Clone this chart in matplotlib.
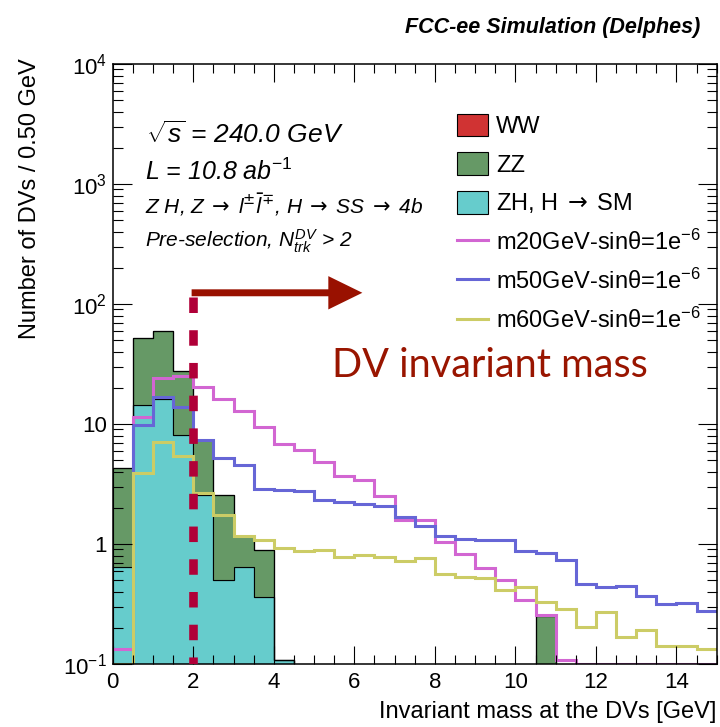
import numpy as np
import matplotlib
matplotlib.use("Agg")
import matplotlib.pyplot as plt
from matplotlib.patches import Patch
from matplotlib.lines import Line2D
from matplotlib.ticker import MultipleLocator, LogLocator, NullFormatter

#%% data: DV invariant mass, 0.5 GeV bins from 0 to 15 GeV
edges = np.arange(0, 15.01, 0.5)

ww = np.zeros(30)
zz = np.array([3.62, 37.6, 42.8, 19.8, 4.85, 2.08, 0.52, 0.52, 0, 0,
               0, 0, 0, 0, 0, 0, 0, 0, 0, 0,
               0, 0.249, 0, 0, 0, 0, 0, 0, 0, 0])
zh = np.array([0.64, 14.4, 16.2, 8.1, 2.55, 0.50, 0.64, 0.364, 0.108, 0,
               0, 0, 0, 0, 0, 0, 0, 0, 0, 0,
               0, 0, 0, 0, 0, 0, 0, 0, 0, 0])

m20 = np.array([0.133, 11.4, 24.1, 25.2, 20.5, 16.3, 12.8, 9.4, 6.77, 6.06,
                4.78, 3.69, 3.40, 2.53, 1.60, 1.57, 1.04, 0.82, 0.63, 0.50,
                0.34, 0.255, 0.109, 0, 0, 0, 0, 0, 0, 0])
m50 = np.array([0, 9.8, 16.9, 13.8, 7.35, 5.16, 4.54, 2.90, 2.80, 2.77,
                2.34, 2.24, 2.14, 2.06, 1.68, 1.41, 1.16, 1.10, 1.09, 1.09,
                0.88, 0.84, 0.73, 0.46, 0.435, 0.447, 0.37, 0.316, 0.32, 0.278])
m60 = np.array([0, 3.89, 7.03, 5.43, 2.68, 1.73, 1.16, 1.07, 0.93, 0.88,
                0.89, 0.78, 0.81, 0.78, 0.72, 0.77, 0.56, 0.53, 0.52, 0.41,
                0.44, 0.33, 0.287, 0.204, 0.272, 0.169, 0.191, 0.141, 0.141, 0.133])

bkg_labels = ["WW", "ZZ", r"ZH, H$\:\rightarrow\:$SM"]
sig_labels = [r"m20GeV-sinθ=1e$^{-6}$", r"m50GeV-sinθ=1e$^{-6}$", r"m60GeV-sinθ=1e$^{-6}$"]
xticks = np.arange(0, 15, 2)
yticks = [0.1, 1, 10, 100, 1000, 10000]
ytick_labels = [r"$10^{-1}$", "1", "10", r"$10^{2}$", r"$10^{3}$", r"$10^{4}$"]
cut = 2.0

#%% style
plt.rcParams['font.family'] = ['Liberation Sans', 'DejaVu Sans']
plt.rcParams['mathtext.fontset'] = 'custom'
plt.rcParams['mathtext.rm'] = 'Liberation Sans'
plt.rcParams['mathtext.it'] = 'Liberation Sans:italic'
plt.rcParams['mathtext.bf'] = 'Liberation Sans:bold'
plt.rcParams['mathtext.sf'] = 'Liberation Sans'

c_ww, c_zz, c_zh = '#d03333', '#669966', '#66cccc'
c_m20, c_m50, c_m60 = '#d266d2', '#6666d6', '#cccc66'

ymin, ymax = 0.1, 1e4

fig = plt.figure(figsize=(7.2, 7.27), dpi=100)
ax = fig.add_axes([112.7/720, 1-664/727, 604/720, 600/727])
ax.set_yscale('log')

# stacked backgrounds: ZH bottom, ZZ, WW on top
floor = 1e-3
s1 = zh
s2 = zh + zz
s3 = s2 + ww
ax.stairs(np.clip(s1, floor, None), edges, baseline=floor, fill=True,
          facecolor=c_zh, edgecolor='black', linewidth=0.8)
ax.stairs(np.clip(s2, floor, None), edges, baseline=np.clip(s1, floor, None), fill=True,
          facecolor=c_zz, edgecolor='black', linewidth=0.8)
ax.stairs(np.clip(s3, floor, None), edges, baseline=np.clip(s2, floor, None), fill=True,
          facecolor=c_ww, edgecolor='black', linewidth=0.8)

# signals
for vals, col in [(m20, c_m20), (m50, c_m50), (m60, c_m60)]:
    ax.stairs(np.clip(vals, ymin, None), edges, baseline=None, color=col, linewidth=2.2)

# cut line and arrow
ax.plot([cut, cut], [114, ymin], color='#b00038', linewidth=6.2,
        linestyle=(0, (1.8, 2.0)), solid_capstyle='butt', dash_capstyle='butt', zorder=5)
ax.annotate('', xy=(6.2, 124), xytext=(cut - 0.04, 124),
            arrowprops=dict(arrowstyle='simple,head_length=2.45,head_width=2.4,tail_width=0.5',
                            mutation_scale=10, facecolor='#991100', edgecolor='none',
                            shrinkA=0, shrinkB=0), zorder=6)
ax.text(5.44, 24.8, "DV invariant mass", color='#991500', fontsize=28.5,
        family=['Lato', 'DejaVu Sans'], va='baseline', ha='left')

ax.set_xlim(0, 15)
ax.set_ylim(ymin, ymax)
ax.set_xticks(xticks, [str(t) for t in xticks])
ax.xaxis.set_minor_locator(MultipleLocator(0.5))
ax.set_yticks(yticks, ytick_labels)
ax.yaxis.set_minor_locator(LogLocator(base=10, subs=np.arange(2, 10)))
ax.yaxis.set_minor_formatter(NullFormatter())
ax.tick_params(which='both', direction='in', top=True, right=True, width=0.8, labelsize=16)
ax.tick_params(axis='x', which='major', length=13, pad=6)
ax.tick_params(axis='x', which='minor', length=6.5)
ax.tick_params(axis='y', which='major', length=14, pad=4)
ax.tick_params(axis='y', which='minor', length=7)
for sp in ax.spines.values():
    sp.set_linewidth(1.1)

# legend
handles = [Patch(facecolor=c_ww, edgecolor='black', linewidth=0.8),
           Patch(facecolor=c_zz, edgecolor='black', linewidth=0.8),
           Patch(facecolor=c_zh, edgecolor='black', linewidth=0.8),
           Line2D([], [], color=c_m20, linewidth=2.2),
           Line2D([], [], color=c_m50, linewidth=2.2),
           Line2D([], [], color=c_m60, linewidth=2.2)]
leg = ax.legend(handles, bkg_labels + sig_labels, loc='upper left', bbox_to_anchor=(0.57, 0.917),
                frameon=False, fontsize=17, handlelength=1.3, handleheight=1.1,
                labelspacing=0.6, handletextpad=0.35, borderaxespad=0, borderpad=0)
leg.get_texts()[2].set_math_fontfamily('dejavusans')

# labels
fig.text(700/720, 1-27/727, "FCC-ee Simulation (Delphes)", fontsize=15.5,
         fontweight='bold', fontstyle='italic', ha='right', va='center')
fig.text(30/720, 1-58/727, "Number of DVs / 0.50 GeV", fontsize=17, rotation=90,
         ha='center', va='top')
fig.text(716/720, 1-712/727, "Invariant mass at the DVs [GeV]", fontsize=17,
         ha='right', va='center')

fig.text(146/720, 1-143/727, r"$\sqrt{s}$ = 240.0 GeV", fontsize=19, fontstyle='italic', va='baseline')
fig.text(145/720, 1-180/727, r"L = 10.8 ab$^{-1}$", fontsize=18, fontstyle='italic', va='baseline')
fig.text(145/720, 1-214/727,
         r"Z H, Z$\:\rightarrow\:$l$^{\pm}\bar{l}^{\mp}$, H$\:\rightarrow\:$SS$\:\rightarrow\:$4b",
         fontsize=15, fontstyle='italic', va='baseline', math_fontfamily='dejavusans')
fig.text(145/720, 1-247/727, r"Pre-selection, $N_{trk}^{DV}$ > 2", fontsize=15,
         fontstyle='italic', va='baseline')

fig.savefig("out.png", dpi=100)
